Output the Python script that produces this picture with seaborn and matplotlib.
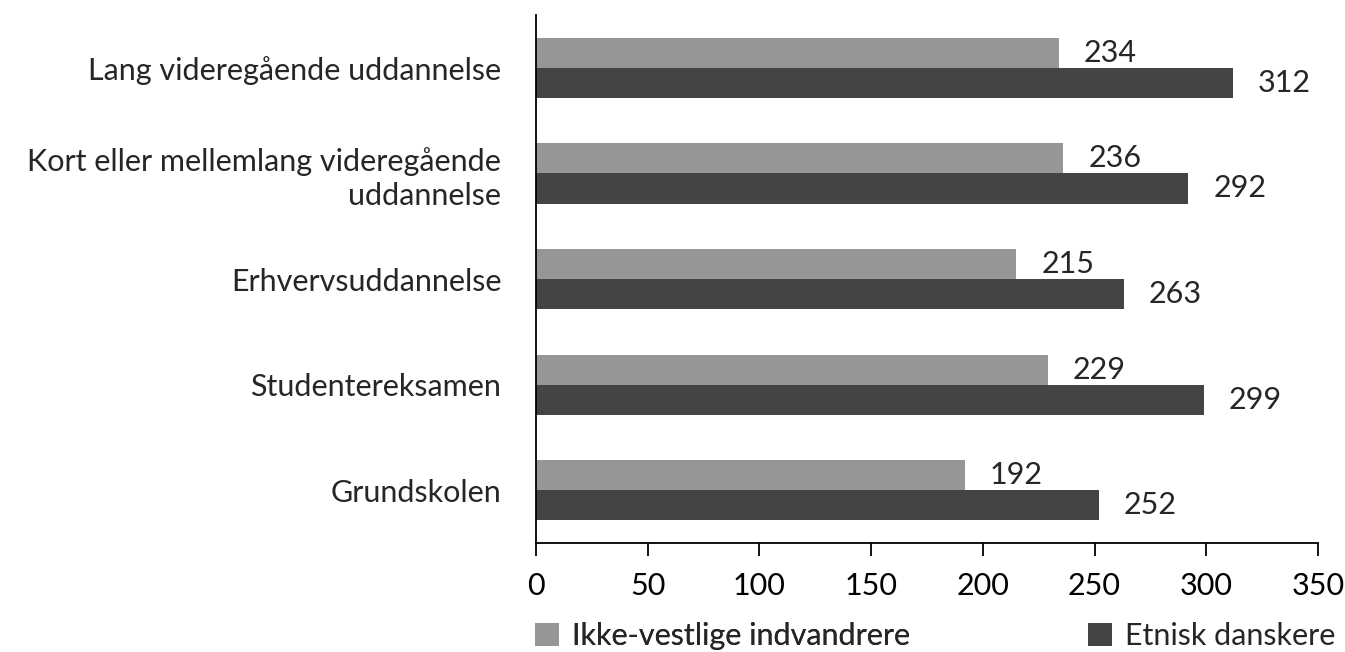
import pandas as pd
import seaborn as sns
import matplotlib.pyplot as plt

# Data
categories = ["Lang videregående uddannelse",
              "Kort eller mellemlang videregående\nuddannelse",
              "Erhvervsuddannelse",
              "Studentereksamen",
              "Grundskolen"]
ikke_vestlige = [234, 236, 215, 229, 192]
etnisk_danskere = [312, 292, 263, 299, 252]
series = ["Ikke-vestlige indvandrere", "Etnisk danskere"]
colors = ["#969696", "#444444"]

df = pd.DataFrame({
    "kategori": categories * 2,
    "gruppe": [series[0]] * 5 + [series[1]] * 5,
    "vaerdi": ikke_vestlige + etnisk_danskere,
})

sns.set_style("white")
plt.rcParams["font.family"] = ["Lato", "DejaVu Sans"]
FS = 22

fig = plt.figure(figsize=(13.45, 6.52), dpi=100)
ax = fig.add_axes([536 / 1345, 0.167, (1318 - 536) / 1345, 0.81])

sns.barplot(data=df, y="kategori", x="vaerdi", hue="gruppe", orient="h",
            palette=colors, width=0.57, ax=ax, legend=True, saturation=1,
            linewidth=0)

# value labels
for cont in ax.containers:
    ax.bar_label(cont, labels=[f"{v:.0f}" for v in cont.datavalues],
                 padding=18, fontsize=FS)

ax.set_xlim(0, 350)
ax.set_xticks(range(0, 351, 50))
ax.set_xlabel("")
ax.set_ylabel("")
ax.tick_params(axis="x", labelsize=FS, length=9, width=1.3, direction="out",
               pad=12, bottom=True, colors="black")
ax.tick_params(axis="y", labelsize=FS, length=0, pad=25)
for lab in ax.get_yticklabels():
    lab.set_horizontalalignment("right")
    lab.set_linespacing(1.25)

for s in ["top", "right"]:
    ax.spines[s].set_visible(False)
for s in ["left", "bottom"]:
    ax.spines[s].set_color("black")
    ax.spines[s].set_linewidth(1.3)

ax.legend_.remove()
handles, labels = ax.get_legend_handles_labels()
kw = dict(frameon=False, fontsize=FS, handlelength=0.8, handleheight=0.8,
          handletextpad=0.4, borderaxespad=0, borderpad=0)
leg1 = fig.legend(handles[:1], labels[:1], loc="center left",
                  bbox_to_anchor=(535 / 1345, 1 - 636 / 652), **kw)
fig.add_artist(leg1)
fig.legend(handles[1:], labels[1:], loc="center right",
           bbox_to_anchor=(1335 / 1345, 1 - 636 / 652), **kw)

fig.savefig("out.png", dpi=100)
